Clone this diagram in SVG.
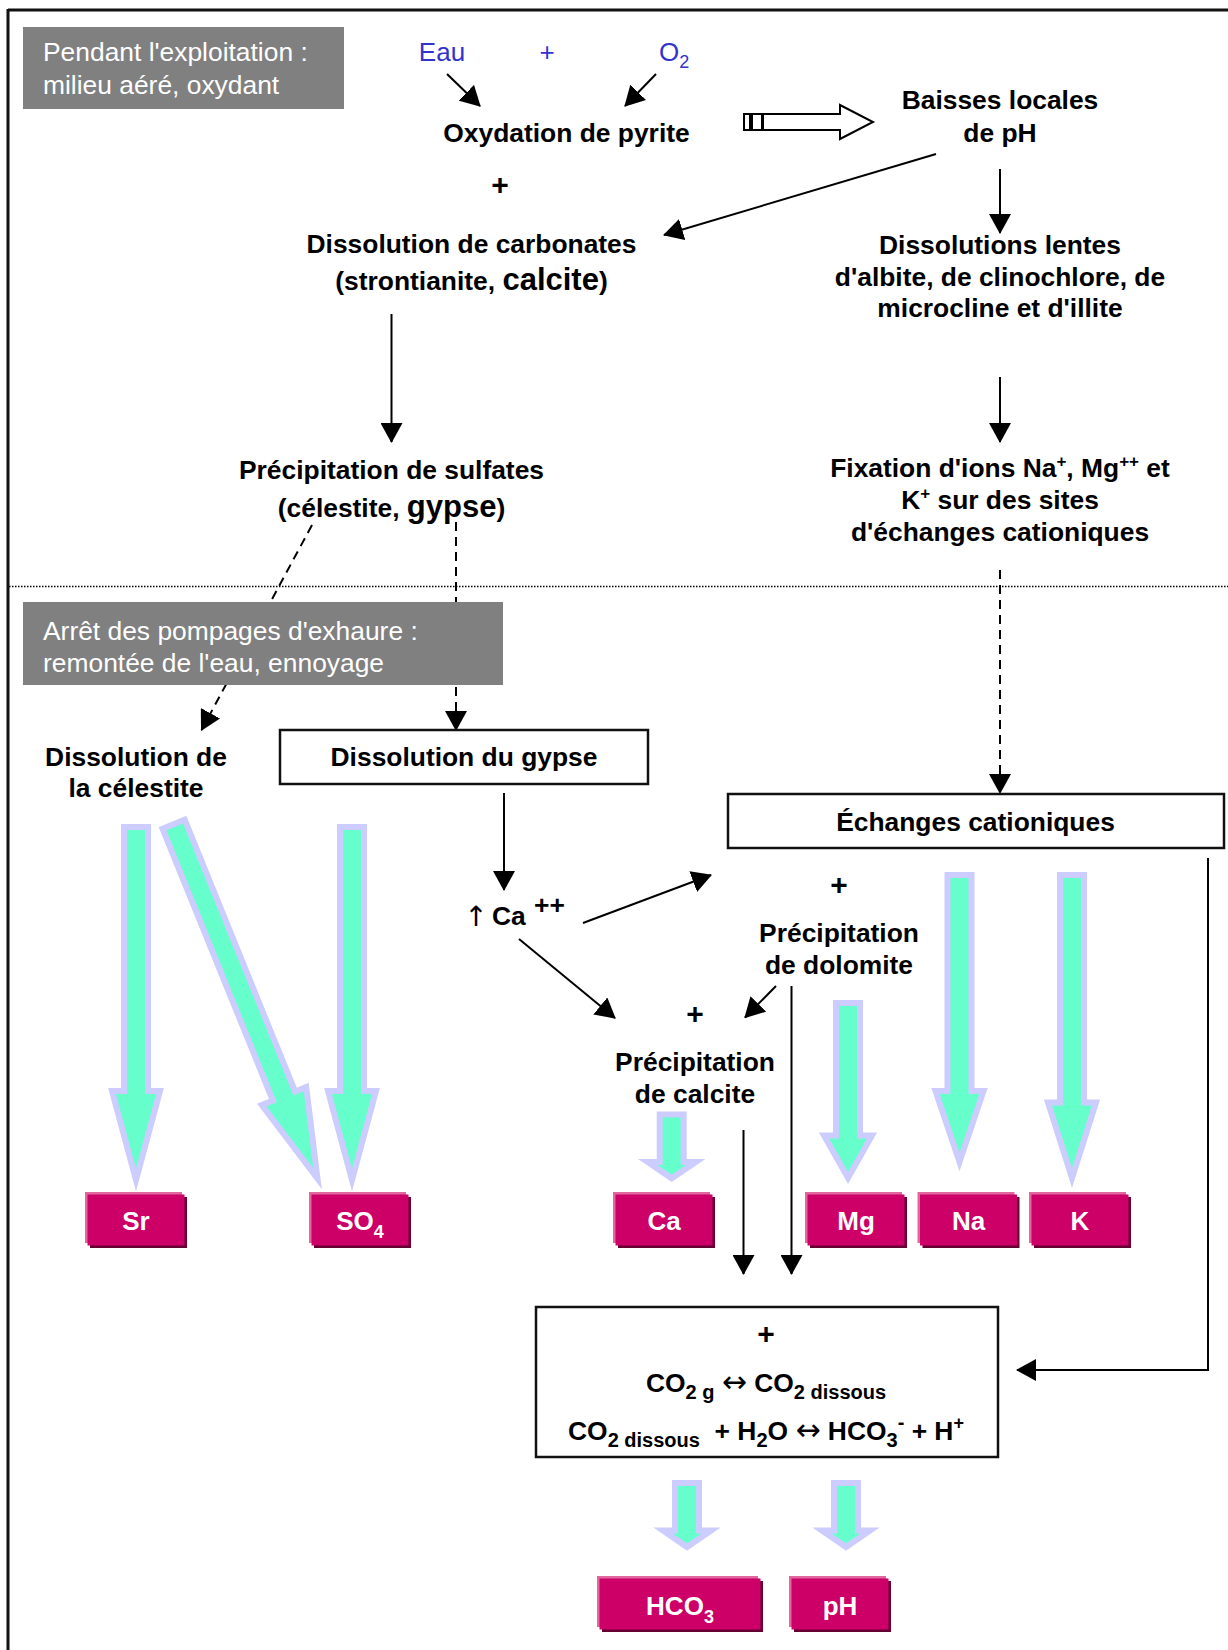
<svg xmlns="http://www.w3.org/2000/svg" width="1228" height="1650" viewBox="0 0 1228 1650">
<style>
text { font-family: "Liberation Sans", Arial, Helvetica, sans-serif; }
.b { font-weight: bold; font-size: 26.4px; fill: #000; }
.c { text-anchor: middle; }
.plus { font-weight: bold; font-size: 30px; fill: #000; text-anchor: middle; }
.arr { font-family: "DejaVu Sans", sans-serif; font-weight: normal; }
.gt { font-size: 26.4px; fill: #fff; }
.blue { font-size: 26px; fill: #3333cc; }
.conn { stroke: #000; stroke-width: 2; fill: none; }
.dash { stroke-dasharray: 9 6; }
.box { fill: #fff; stroke: #111; stroke-width: 2.5; }
.grey { fill: #808080; }
.flow { fill: #66ffcc; stroke: #ccccff; stroke-width: 6; stroke-linejoin: miter; stroke-miterlimit: 6; }
.pl { fill: #e0689f; }
.pd { fill: #660033; }
.pm { fill: #cc0066; }
.pt { fill: #fff; font-weight: bold; font-size: 26px; text-anchor: middle; }
.hollow { fill: #fff; stroke: #000; stroke-width: 2; }
</style>
<defs>
<marker id="ah" viewBox="0 0 20 22" refX="19" refY="11" markerWidth="20" markerHeight="22" markerUnits="userSpaceOnUse" orient="auto">
<path d="M0,0 L20,11 L0,22 z" fill="#000"/>
</marker>
</defs>
<rect width="1228" height="1650" fill="#fff"/>
<g id="frame">
<line x1="8" y1="10" x2="1228" y2="10" stroke="#111" stroke-width="3"/>
<line x1="8" y1="9" x2="8" y2="1650" stroke="#111" stroke-width="3"/>
<line x1="9" y1="586.5" x2="1228" y2="586.5" stroke="#000" stroke-width="1.5" stroke-dasharray="1.5 1.5"/>
</g>
<g id="connectors">
<line class="conn" x1="447" y1="74" x2="480" y2="106" marker-end="url(#ah)"/>
<line class="conn" x1="656" y1="74" x2="625" y2="106" marker-end="url(#ah)"/>
<line class="conn" x1="936" y1="154" x2="664" y2="235" marker-end="url(#ah)"/>
<line class="conn" x1="1000" y1="169" x2="1000" y2="233" marker-end="url(#ah)"/>
<line class="conn" x1="391.5" y1="314" x2="391.5" y2="442" marker-end="url(#ah)"/>
<line class="conn dash" x1="312" y1="525" x2="201.5" y2="730" marker-end="url(#ah)"/>
<line class="conn dash" x1="456" y1="522" x2="456" y2="730" marker-end="url(#ah)"/>
<line class="conn" x1="1000" y1="377" x2="1000" y2="442" marker-end="url(#ah)"/>
<line class="conn dash" x1="1000" y1="570" x2="1000" y2="793" marker-end="url(#ah)"/>
<line class="conn" x1="504" y1="793" x2="504" y2="890" marker-end="url(#ah)"/>
<line class="conn" x1="583" y1="923" x2="711" y2="875" marker-end="url(#ah)"/>
<line class="conn" x1="519" y1="939" x2="615" y2="1018" marker-end="url(#ah)"/>
<line class="conn" x1="776" y1="986" x2="745" y2="1017.5" marker-end="url(#ah)"/>
<line class="conn" x1="791.5" y1="986" x2="791.5" y2="1274" marker-end="url(#ah)"/>
<line class="conn" x1="743.5" y1="1130" x2="743.5" y2="1274" marker-end="url(#ah)"/>
<polyline class="conn" points="1208,858 1208,1370 1017,1370" marker-end="url(#ah)"/>
<g id="hollow-arrow">
<rect class="hollow" x="744" y="114" width="6" height="16"/>
<rect class="hollow" x="752" y="114" width="10" height="16"/>
<polygon class="hollow" points="763,114 840,114 840,105 873,122 840,139 840,130 763,130"/>
</g>
</g>
<g id="flows">
<polygon class="flow" points="124,827 148,827 148,1091 160,1091 136,1180 112,1091 124,1091"/>
<polygon class="flow" points="162.5,828.7 184.7,819.7 295.1,1091.5 306.2,1087 317.5,1178.5 261.8,1105 272.9,1100.5"/>
<polygon class="flow" points="340,827 364,827 364,1091 376,1091 352,1180 328,1091 340,1091"/>
<polygon class="flow" points="659.7,1114.5 683.7,1114.5 683.7,1162 695.7,1162 671.7,1178.3 647.7,1162 659.7,1162"/>
<polygon class="flow" points="836,1003 860,1003 860,1135.5 872,1135.5 848,1178 824,1135.5 836,1135.5"/>
<polygon class="flow" points="947.5,875 971.5,875 971.5,1091 983.5,1091 959.5,1162 935.5,1091 947.5,1091"/>
<polygon class="flow" points="1060,875 1084,875 1084,1102.5 1096,1102.5 1072,1178 1048,1102.5 1060,1102.5"/>
<polygon class="flow" points="675,1483 699,1483 699,1530.5 711,1530.5 687,1547 663,1530.5 675,1530.5"/>
<polygon class="flow" points="834,1483 858,1483 858,1530.5 870,1530.5 846,1547 822,1530.5 834,1530.5"/>
</g>
<g id="phase1">
<rect class="grey" x="23" y="27" width="321" height="82"/>
<text class="gt" x="43" y="61">Pendant l'exploitation :</text>
<text class="gt" x="43" y="94">milieu aéré, oxydant</text>
</g>
<g id="eau"><text class="blue c" x="442" y="61">Eau</text></g>
<g id="plus-blue"><text class="blue c" x="547" y="61">+</text></g>
<g id="o2"><text class="blue" x="659" y="61">O<tspan font-size="18" dy="7">2</tspan></text></g>
<g id="oxydation"><text class="b c" x="566.5" y="142">Oxydation de pyrite</text></g>
<g id="plus1"><text class="plus" x="500" y="195">+</text></g>
<g id="baisses">
<text class="b c" x="1000" y="109">Baisses locales</text>
<text class="b c" x="1000" y="142">de pH</text>
</g>
<g id="carbonates">
<text class="b c" x="471.5" y="253">Dissolution de carbonates</text>
<text class="b c" x="471.5" y="290">(strontianite, <tspan font-size="31">calcite</tspan>)</text>
</g>
<g id="lentes">
<text class="b c" x="1000" y="254">Dissolutions lentes</text>
<text class="b c" x="1000" y="286">d'albite, de clinochlore, de</text>
<text class="b c" x="1000" y="317">microcline et d'illite</text>
</g>
<g id="sulfates">
<text class="b c" x="391.5" y="479">Précipitation de sulfates</text>
<text class="b c" x="391.5" y="517">(célestite, <tspan font-size="31">gypse</tspan>)</text>
</g>
<g id="fixation">
<text class="b c" x="1000" y="477">Fixation d'ions Na<tspan font-size="17" dy="-10">+</tspan><tspan dy="10">, Mg</tspan><tspan font-size="17" dy="-10">++</tspan><tspan dy="10"> et</tspan></text>
<text class="b c" x="1000" y="509">K<tspan font-size="17" dy="-10">+</tspan><tspan dy="10"> sur des sites</tspan></text>
<text class="b c" x="1000" y="541">d'échanges cationiques</text>
</g>
<g id="phase2">
<rect class="grey" x="23" y="602" width="480" height="83"/>
<text class="gt" x="43" y="640">Arrêt des pompages d'exhaure :</text>
<text class="gt" x="43" y="672">remontée de l'eau, ennoyage</text>
</g>
<g id="celestite">
<text class="b c" x="136" y="766">Dissolution de</text>
<text class="b c" x="136" y="797">la célestite</text>
</g>
<g id="gypse">
<rect class="box" x="280" y="730" width="368" height="54"/>
<text class="b c" x="464" y="766">Dissolution du gypse</text>
</g>
<g id="echanges">
<rect class="box" x="728" y="794" width="496" height="54"/>
<text class="b c" x="975.5" y="831">Échanges cationiques</text>
</g>
<g id="ca-up">
<text class="arr" x="476" y="926" font-size="28" text-anchor="middle" fill="#000">↑</text>
<text class="b" x="492" y="925">Ca</text>
<text class="b" x="534" y="914" font-size="17">++</text>
</g>
<g id="dolomite">
<text class="plus" x="839" y="895">+</text>
<text class="b c" x="839" y="942">Précipitation</text>
<text class="b c" x="839" y="974">de dolomite</text>
</g>
<g id="calcite">
<text class="plus" x="695" y="1024">+</text>
<text class="b c" x="695" y="1071">Précipitation</text>
<text class="b c" x="695" y="1103">de calcite</text>
</g>
<g id="co2">
<rect class="box" x="536" y="1307" width="462" height="150"/>
<text class="plus" x="766" y="1344">+</text>
<text class="b c" x="766" y="1392">CO<tspan font-size="20" dy="7">2 g</tspan><tspan dy="-7"> </tspan><tspan class="arr" font-size="30">↔</tspan><tspan> CO</tspan><tspan font-size="20" dy="7">2 dissous</tspan></text>
<text class="b c" x="766" y="1440">CO<tspan font-size="20" dy="7">2 dissous</tspan><tspan dy="-7">&#160; + H</tspan><tspan font-size="20" dy="7">2</tspan><tspan dy="-7">O </tspan><tspan class="arr" font-size="30">↔</tspan><tspan> HCO</tspan><tspan font-size="20" dy="7">3</tspan><tspan font-size="20" dy="-18">-</tspan><tspan dy="11"> + H</tspan><tspan font-size="18" dy="-11">+</tspan></text>
</g>
<g id="sr">
<rect class="pd" x="90" y="1197" width="97" height="51"/>
<rect class="pl" x="85" y="1192" width="97" height="51"/>
<rect class="pm" x="87.5" y="1194.5" width="97" height="51"/>
<text class="pt" x="136" y="1230">Sr</text>
</g>
<g id="so4">
<rect class="pd" x="314" y="1197" width="97" height="51"/>
<rect class="pl" x="309" y="1192" width="97" height="51"/>
<rect class="pm" x="311.5" y="1194.5" width="97" height="51"/>
<text class="pt" x="360" y="1230">SO<tspan font-size="18" dy="8">4</tspan></text>
</g>
<g id="ca">
<rect class="pd" x="618" y="1197" width="97" height="51"/>
<rect class="pl" x="613" y="1192" width="97" height="51"/>
<rect class="pm" x="615.5" y="1194.5" width="97" height="51"/>
<text class="pt" x="664" y="1230">Ca</text>
</g>
<g id="mg">
<rect class="pd" x="810" y="1197" width="97" height="51"/>
<rect class="pl" x="805" y="1192" width="97" height="51"/>
<rect class="pm" x="807.5" y="1194.5" width="97" height="51"/>
<text class="pt" x="856" y="1230">Mg</text>
</g>
<g id="na">
<rect class="pd" x="922.5" y="1197" width="97" height="51"/>
<rect class="pl" x="917.5" y="1192" width="97" height="51"/>
<rect class="pm" x="920" y="1194.5" width="97" height="51"/>
<text class="pt" x="968.5" y="1230">Na</text>
</g>
<g id="k">
<rect class="pd" x="1034" y="1197" width="97" height="51"/>
<rect class="pl" x="1029" y="1192" width="97" height="51"/>
<rect class="pm" x="1031.5" y="1194.5" width="97" height="51"/>
<text class="pt" x="1080" y="1230">K</text>
</g>
<g id="hco3">
<rect class="pd" x="602" y="1581" width="161" height="51"/>
<rect class="pl" x="597" y="1576" width="161" height="51"/>
<rect class="pm" x="599.5" y="1578.5" width="161" height="51"/>
<text class="pt" x="680" y="1615">HCO<tspan font-size="18" dy="8">3</tspan></text>
</g>
<g id="ph">
<rect class="pd" x="794" y="1581" width="97" height="51"/>
<rect class="pl" x="789" y="1576" width="97" height="51"/>
<rect class="pm" x="791.5" y="1578.5" width="97" height="51"/>
<text class="pt" x="840" y="1615">pH</text>
</g>
</svg>
